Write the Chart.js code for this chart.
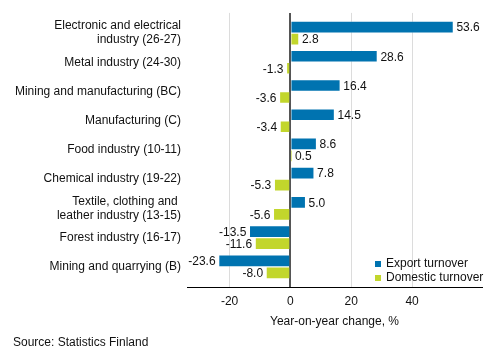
<!DOCTYPE html>
<html>
<head>
<meta charset="utf-8">
<script src="https://cdn.jsdelivr.net/npm/chart.js@4/dist/chart.umd.min.js"></script>
<style>
  html, body { margin: 0; padding: 0; background: #fff; }
  #wrap { width: 493px; height: 360px; position: relative; }
</style>
</head>
<body>
<div id="wrap"><canvas id="turnover-chart"></canvas></div>
<script>
  const categories = [
    ["Electronic and electrical", "industry (26-27)"],
    "Metal industry (24-30)",
    "Mining and manufacturing (BC)",
    "Manufacturing (C)",
    "Food industry (10-11)",
    "Chemical industry (19-22)",
    ["Textile, clothing and ", "leather industry (13-15)"],
    "Forest industry (16-17)",
    "Mining and quarrying (B)"
  ];
  const exportTurnover = [53.6, 28.6, 16.4, 14.5, 8.6, 7.8, 5.0, -13.5, -23.6];
  const domesticTurnover = [2.8, -1.3, -3.6, -3.4, 0.5, -5.3, -5.6, -11.6, -8.0];
  const seriesNames = ["Export turnover", "Domestic turnover"];
  const xTicks = [-20, 0, 20, 40];
  const axisTitle = "Year-on-year change, %";
  const sourceText = "Source: Statistics Finland";

  const FONT = 'Arial, "Liberation Sans", sans-serif';
  const TEXT = "#111111";
  Chart.defaults.font.family = FONT;
  Chart.defaults.font.size = 12;
  Chart.defaults.color = TEXT;

  // value labels at the end of every bar
  const barLabels = {
    id: "barLabels",
    afterDatasetsDraw(chart) {
      const ctx = chart.ctx;
      ctx.save();
      ctx.font = "12px " + FONT;
      ctx.fillStyle = TEXT;
      ctx.textBaseline = "middle";
      chart.data.datasets.forEach((ds, i) => {
        chart.getDatasetMeta(i).data.forEach((el, j) => {
          const v = ds.data[j];
          const txt = v.toFixed(1);
          if (v >= 0) {
            ctx.textAlign = "left";
            ctx.fillText(txt, el.x + 3, el.y + 1);
          } else {
            ctx.textAlign = "right";
            ctx.fillText(txt, el.x - 3, el.y + 1);
          }
        });
      });
      ctx.restore();
    }
  };

  // legend inside the plot, bottom right, plus the source line
  const extras = {
    id: "extras",
    afterDraw(chart) {
      const ctx = chart.ctx;
      ctx.save();
      ctx.font = "12px " + FONT;
      ctx.textBaseline = "middle";
      ctx.textAlign = "left";
      chart.data.datasets.forEach((ds, i) => {
        const y = 264 + i * 14;
        ctx.fillStyle = ds.backgroundColor;
        ctx.fillRect(375, y - 3, 6, 6);
        ctx.fillStyle = TEXT;
        ctx.fillText(ds.label, 386, y);
      });
      ctx.fillText(sourceText, 13, 343);
      ctx.restore();
    }
  };

  new Chart(document.getElementById("turnover-chart"), {
    type: "bar",
    data: {
      labels: categories,
      datasets: [
        {
          label: seriesNames[0],
          data: exportTurnover,
          backgroundColor: "#0073b0",
          borderColor: "rgba(255,255,255,0.2)",
          borderWidth: 1,
          barThickness: 12
        },
        {
          label: seriesNames[1],
          data: domesticTurnover,
          backgroundColor: "#c2d62c",
          borderColor: "rgba(255,255,255,0.2)",
          borderWidth: 1,
          barThickness: 12
        }
      ]
    },
    options: {
      indexAxis: "y",
      responsive: true,
      maintainAspectRatio: false,
      animation: false,
      layout: { padding: { top: 11, right: 11, bottom: 0, left: 0 } },
      scales: {
        x: {
          min: -34,
          max: 63,
          afterBuildTicks: (scale) => {
            scale.ticks = xTicks.map((v) => ({ value: v }));
          },
          afterFit: (scale) => { scale.height = 73; },
          grid: {
            drawTicks: false,
            color: (c) => (c.tick && c.tick.value === 0 ? "#555555" : "#dcdcdc"),
            lineWidth: (c) => (c.tick && c.tick.value === 0 ? 2 : 1)
          },
          border: { color: "#000", width: 1 },
          ticks: { padding: 7, color: TEXT, font: { size: 12 } },
          title: {
            display: true,
            text: axisTitle,
            color: TEXT,
            font: { size: 12 },
            padding: { top: 0, bottom: 31 }
          }
        },
        y: {
          afterFit: (scale) => { scale.width = 187; },
          afterBuildTicks: (scale) => {
            // a little extra room above the first and below the last group
            scale._startValue -= 0.19;
            scale._valueRange += 0.38;
          },
          grid: { display: false, drawTicks: false },
          border: { display: false },
          ticks: {
            padding: 6,
            color: TEXT,
            font: { size: 12, lineHeight: 1.15 },
            autoSkip: false
          }
        }
      },
      plugins: {
        legend: { display: false },
        tooltip: { enabled: false }
      }
    },
    plugins: [barLabels, extras]
  });
</script>
</body>
</html>
